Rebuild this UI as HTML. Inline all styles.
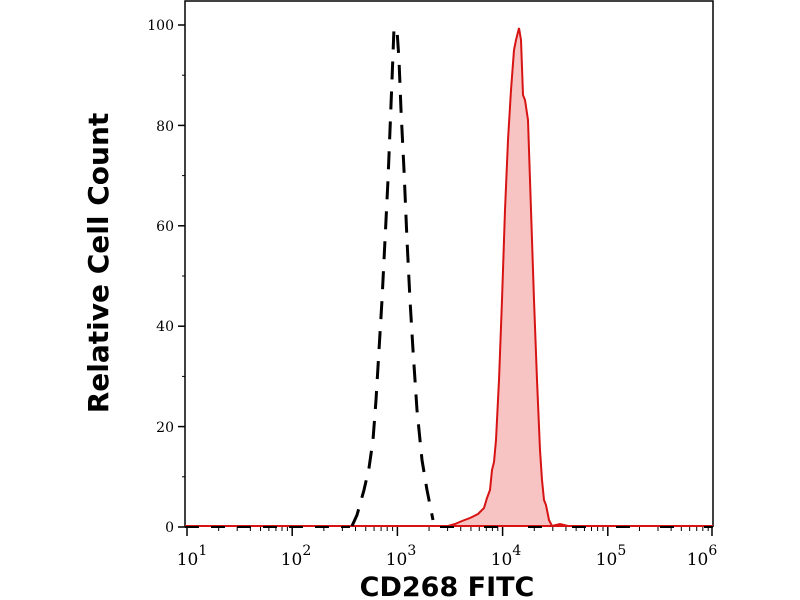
<!DOCTYPE html>
<html><head><style>
html,body{margin:0;padding:0;background:#fff;}
svg{display:block;}
text{font-family:"DejaVu Serif","Liberation Serif",serif;fill:#000;}
.lab{font-family:"DejaVu Sans","Liberation Sans",sans-serif;font-weight:bold;}
</style></head><body>
<svg width="800" height="600" viewBox="0 0 800 600" xmlns="http://www.w3.org/2000/svg">
<rect width="800" height="600" fill="#fff"/>
<polyline points="185,527 185,1 713,1 713,527" fill="none" stroke="#000" stroke-width="1.5"/>
<path d="M185,526 L448,526 L455,524 L462,521 L470,518 L478,514 L484,508 L487,498 L490,490 L492,470 L494,462 L496,440 L499,380 L502,300 L505,210 L508,140 L511,90 L514,50 L516,40 L519,28 L521,40 L523,95 L525,100 L528,120 L531,210 L534,300 L537,380 L540,450 L542,480 L544,500 L546,505 L549,520 L552,526 L560,524 L568,526 L713,526 Z" fill="#f7c3c3" stroke="#d71313" stroke-width="2"/>
<path d="M352,526 L357,515 L364,490 L369,468 L373,440 L376,400 L379,350 L382,300 L385,240 L388,180 L390,130 L392,80 L394,28 L397,30 L399,60 L401,110 L404,170 L407,240 L410,300 L413,350 L417,410 L422,460 L427,490 L433,520" fill="none" stroke="#000" stroke-width="3" stroke-dasharray="18,12"/>
<path d="M185,527 L350,527" fill="none" stroke="#000" stroke-width="2" stroke-dasharray="14,12"/>
<path d="M440,527 L713,527" fill="none" stroke="#000" stroke-width="2" stroke-dasharray="14,30"/>
<g stroke="#000" stroke-width="1.5">
<line x1="178" y1="527" x2="185" y2="527"/><line x1="178" y1="426.6" x2="185" y2="426.6"/>
<line x1="178" y1="326.2" x2="185" y2="326.2"/><line x1="178" y1="225.8" x2="185" y2="225.8"/>
<line x1="178" y1="125.4" x2="185" y2="125.4"/><line x1="178" y1="25" x2="185" y2="25"/>
</g>
<g stroke="#000" stroke-width="1">
<line x1="182" y1="476.8" x2="185" y2="476.8"/><line x1="182" y1="376.4" x2="185" y2="376.4"/>
<line x1="182" y1="276" x2="185" y2="276"/><line x1="182" y1="175.6" x2="185" y2="175.6"/>
<line x1="182" y1="75.2" x2="185" y2="75.2"/>
</g>
<g font-size="14" text-anchor="end">
<text x="174" y="532">0</text><text x="174" y="432">20</text><text x="174" y="331">40</text>
<text x="174" y="231">60</text><text x="174" y="131">80</text><text x="174" y="30">100</text>
</g>
<g stroke="#000" stroke-width="1.5">
<line x1="187" y1="527" x2="187" y2="536"/><line x1="292.2" y1="527" x2="292.2" y2="536"/>
<line x1="397.4" y1="527" x2="397.4" y2="536"/><line x1="502.6" y1="527" x2="502.6" y2="536"/>
<line x1="607.8" y1="527" x2="607.8" y2="536"/><line x1="712" y1="527" x2="712" y2="536"/>
</g>
<g id="minor" stroke="#000" stroke-width="1"></g>
<g font-size="17" text-anchor="middle">
<text x="192" y="565">10<tspan dy="-10" font-size="14">1</tspan></text>
<text x="296" y="565">10<tspan dy="-10" font-size="14">2</tspan></text>
<text x="401" y="565">10<tspan dy="-10" font-size="14">3</tspan></text>
<text x="506" y="565">10<tspan dy="-10" font-size="14">4</tspan></text>
<text x="611" y="565">10<tspan dy="-10" font-size="14">5</tspan></text>
<text x="702" y="565">10<tspan dy="-10" font-size="14">6</tspan></text>
</g>
<text class="lab" x="98" y="263" font-size="28" text-anchor="middle" transform="rotate(-90 98 263)" dy="10">Relative Cell Count</text>
<text class="lab" x="447" y="596" font-size="27" text-anchor="middle">CD268 FITC</text>
<script>
var ns="http://www.w3.org/2000/svg",g=document.getElementById('minor');
for(var d=0;d<5;d++){var x0=187+d*105.2;
 for(var k=2;k<10;k++){var x=x0+Math.log10(k)*105.2;var m=document.createElementNS(ns,'line');m.setAttribute('x1',x);m.setAttribute('x2',x);m.setAttribute('y1',527);m.setAttribute('y2',531);g.appendChild(m);}
}
</script>
</svg>
</body></html>
